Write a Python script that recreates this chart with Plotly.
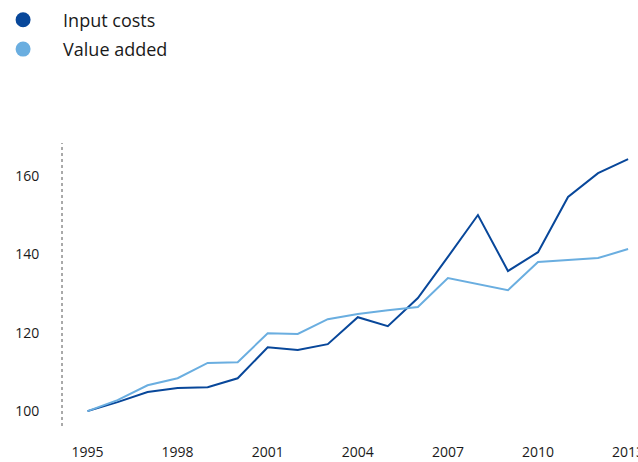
import plotly.graph_objects as go

# Index values, 1995 = 100
years = list(range(1995, 2014))
input_costs = [100.0, 102.3, 104.9, 105.9, 106.1, 108.4, 116.3, 115.6, 117.1, 124.0,
               121.7, 128.9, 139.4, 150.1, 135.8, 140.6, 154.7, 160.8, 164.4]
value_added = [100.0, 102.8, 106.6, 108.4, 112.3, 112.5, 119.9, 119.7, 123.5, 124.8,
               125.8, 126.6, 134.0, 132.4, 130.9, 138.1, 138.6, 139.1, 141.4]
series_names = ["Input costs", "Value added"]
tick_years = [1995, 1998, 2001, 2004, 2007, 2010, 2013]
tick_values = [100, 120, 140, 160]

dark = "#08479a"
light = "#6aaee0"
font_family = "Open Sans, Lato, sans-serif"

fig = go.Figure()
for name, vals, col in [(series_names[0], input_costs, dark),
                        (series_names[1], value_added, light)]:
    fig.add_trace(go.Scatter(x=years, y=vals, mode="lines", name=name,
                             line=dict(color=col, width=2),
                             showlegend=False))
    # legend entry drawn as a round dot
    fig.add_trace(go.Scatter(x=[None], y=[None], mode="markers", name=name,
                             legendgroup=name,
                             marker=dict(color=col, size=15, symbol="circle"),
                             showlegend=True))

fig.update_layout(
    width=638, height=462,
    margin=dict(l=62, r=0, t=143, b=36, autoexpand=False),
    paper_bgcolor="white", plot_bgcolor="white",
    font=dict(family=font_family, color="#1a1a1a"),
    legend=dict(x=-0.137, y=1.50, xanchor="left", yanchor="top",
                font=dict(size=18, color="#1a1a1a"),
                itemwidth=70, tracegroupgap=3,
                bgcolor="rgba(0,0,0,0)"),
    xaxis=dict(range=[1994.15, 2013.33], tickvals=tick_years,
               ticktext=[str(y) for y in tick_years],
               showgrid=False, zeroline=False, showline=False,
               ticks="outside", ticklen=13, tickcolor="rgba(0,0,0,0)",
               ticklabeloverflow="allow",
               tickfont=dict(size=14, color="#1a1a1a")),
    yaxis=dict(range=[96.2, 168.5], tickvals=tick_values,
               showgrid=False, zeroline=False, showline=False,
               ticks="outside", ticklen=19, tickcolor="rgba(0,0,0,0)",
               tickfont=dict(size=14, color="#1a1a1a")),
    shapes=[dict(type="line", xref="paper", yref="paper", x0=0, x1=0, y0=0, y1=1,
                 line=dict(color="#555555", width=1, dash="dot"))],
)

fig.write_html("out.html")
